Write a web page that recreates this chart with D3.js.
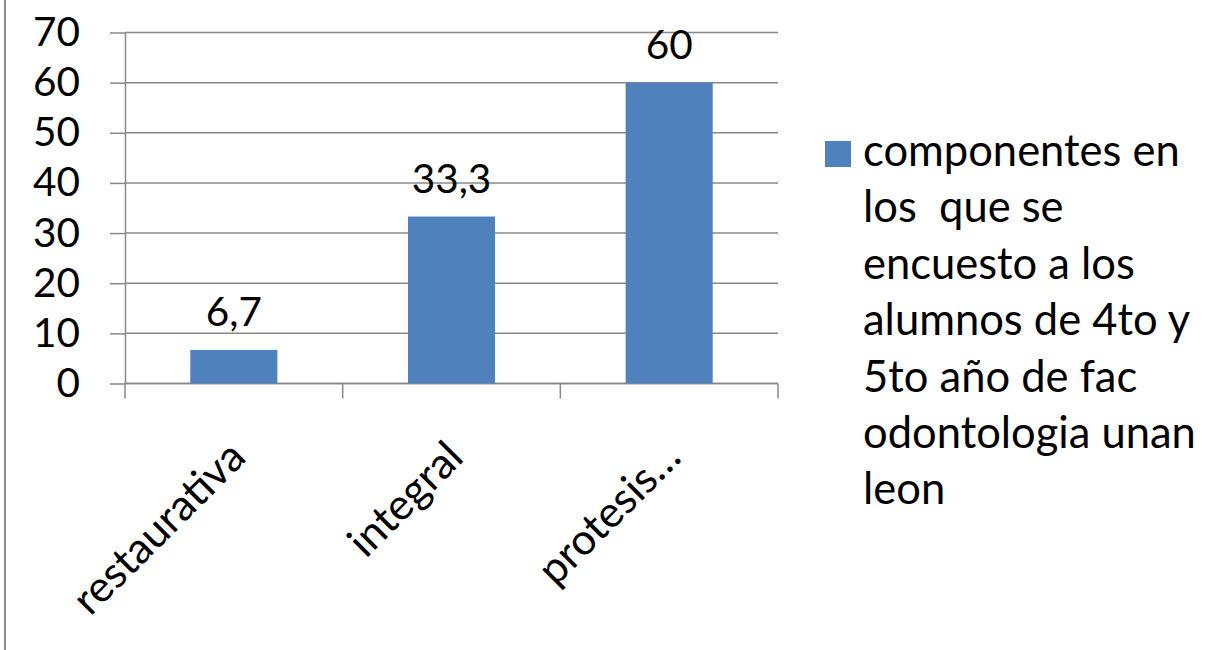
<!DOCTYPE html>
<html>
<head>
<meta charset="utf-8">
<script src="https://cdn.jsdelivr.net/npm/d3@7"></script>
<style>
  html, body { margin: 0; padding: 0; background: #fff; }
  svg { display: block; font-family: Lato, "Open Sans", sans-serif; }
</style>
</head>
<body>
<svg id="chart" width="1208" height="650"></svg>
<script>
// Categories and values of the single series
const categories = ["restaurativa", "integral", "protesis…"];
const values = [6.7, 33.3, 60];
const valueLabels = ["6,7", "33,3", "60"];
const yTicks = [0, 10, 20, 30, 40, 50, 60, 70];
const legendLines = [
  "componentes en",
  "los  que se",
  "encuesto a los",
  "alumnos de 4to y",
  "5to año de fac",
  "odontologia unan",
  "leon"
];

const barColor = "#4F81BD";
const lineColor = "#888888";

const svg = d3.select("#chart");
svg.append("rect").attr("width", 1208).attr("height", 650).attr("fill", "#fff");

// Chart border on the left edge
svg.append("line")
  .attr("x1", 5).attr("x2", 5).attr("y1", 0).attr("y2", 650)
  .attr("stroke", "#8c8c8c").attr("stroke-width", 2);

const plot = { left: 125, right: 778, top: 32.5, bottom: 383.5 };

const x = d3.scaleBand()
  .domain(categories)
  .range([plot.left, plot.right])
  .paddingInner(0.6)
  .paddingOuter(0.3);

const y = d3.scaleLinear().domain([0, 70]).range([plot.bottom, plot.top]);

// Horizontal gridlines
svg.append("g")
  .selectAll("line")
  .data(yTicks)
  .join("line")
  .attr("x1", plot.left).attr("x2", plot.right)
  .attr("y1", d => y(d)).attr("y2", d => y(d))
  .attr("stroke", lineColor).attr("stroke-width", 1.5);

// Y axis with outward ticks
const yAxis = svg.append("g")
  .attr("transform", `translate(${plot.left},0)`)
  .call(d3.axisLeft(y).tickValues(yTicks).tickSize(15).tickSizeOuter(0).tickPadding(30));
yAxis.select(".domain").attr("stroke", lineColor).attr("stroke-width", 1.5);
yAxis.selectAll(".tick line").attr("stroke", lineColor).attr("stroke-width", 1.5);
yAxis.selectAll(".tick text")
  .attr("font-family", "Lato, sans-serif")
  .attr("font-size", 40.5)
  .attr("fill", "#000");

// X axis line and tick marks between categories
const step = x.step();
const boundaries = d3.range(categories.length + 1).map(i => plot.left + i * step);
svg.append("line")
  .attr("x1", plot.left).attr("x2", plot.right)
  .attr("y1", y(0)).attr("y2", y(0))
  .attr("stroke", lineColor).attr("stroke-width", 1.5);
svg.append("g")
  .selectAll("line")
  .data(boundaries)
  .join("line")
  .attr("x1", d => d).attr("x2", d => d)
  .attr("y1", y(0)).attr("y2", y(0) + 15)
  .attr("stroke", lineColor).attr("stroke-width", 1.5);

// Bars
svg.append("g")
  .selectAll("rect")
  .data(values)
  .join("rect")
  .attr("x", (d, i) => x(categories[i]))
  .attr("width", x.bandwidth())
  .attr("y", d => y(d))
  .attr("height", d => y(0) - y(d))
  .attr("fill", barColor);

// Value labels above bars
svg.append("g")
  .selectAll("text")
  .data(values)
  .join("text")
  .attr("x", (d, i) => x(categories[i]) + x.bandwidth() / 2)
  .attr("y", d => y(d) - 24)
  .attr("text-anchor", "middle")
  .attr("font-size", 40.5)
  .attr("fill", "#000")
  .text((d, i) => valueLabels[i]);

// Rotated category labels
svg.append("g")
  .selectAll("text")
  .data(categories)
  .join("text")
  .attr("transform", d => `translate(${x(d) + x.bandwidth() / 2 + 14},${y(0) + 76}) rotate(-45)`)
  .attr("text-anchor", "end")
  .attr("font-size", 43)
  .attr("fill", "#000")
  .text(d => d);

// Legend
const legend = svg.append("g");
legend.append("rect")
  .attr("x", 825).attr("y", 141).attr("width", 26).attr("height", 26)
  .attr("fill", barColor);
legend.selectAll("text")
  .data(legendLines)
  .join("text")
  .attr("x", 863)
  .attr("y", (d, i) => 166 + i * 56.4)
  .attr("font-size", 43.5)
  .attr("fill", "#000")
  .attr("xml:space", "preserve")
  .style("white-space", "pre")
  .text(d => d);
</script>
</body>
</html>
